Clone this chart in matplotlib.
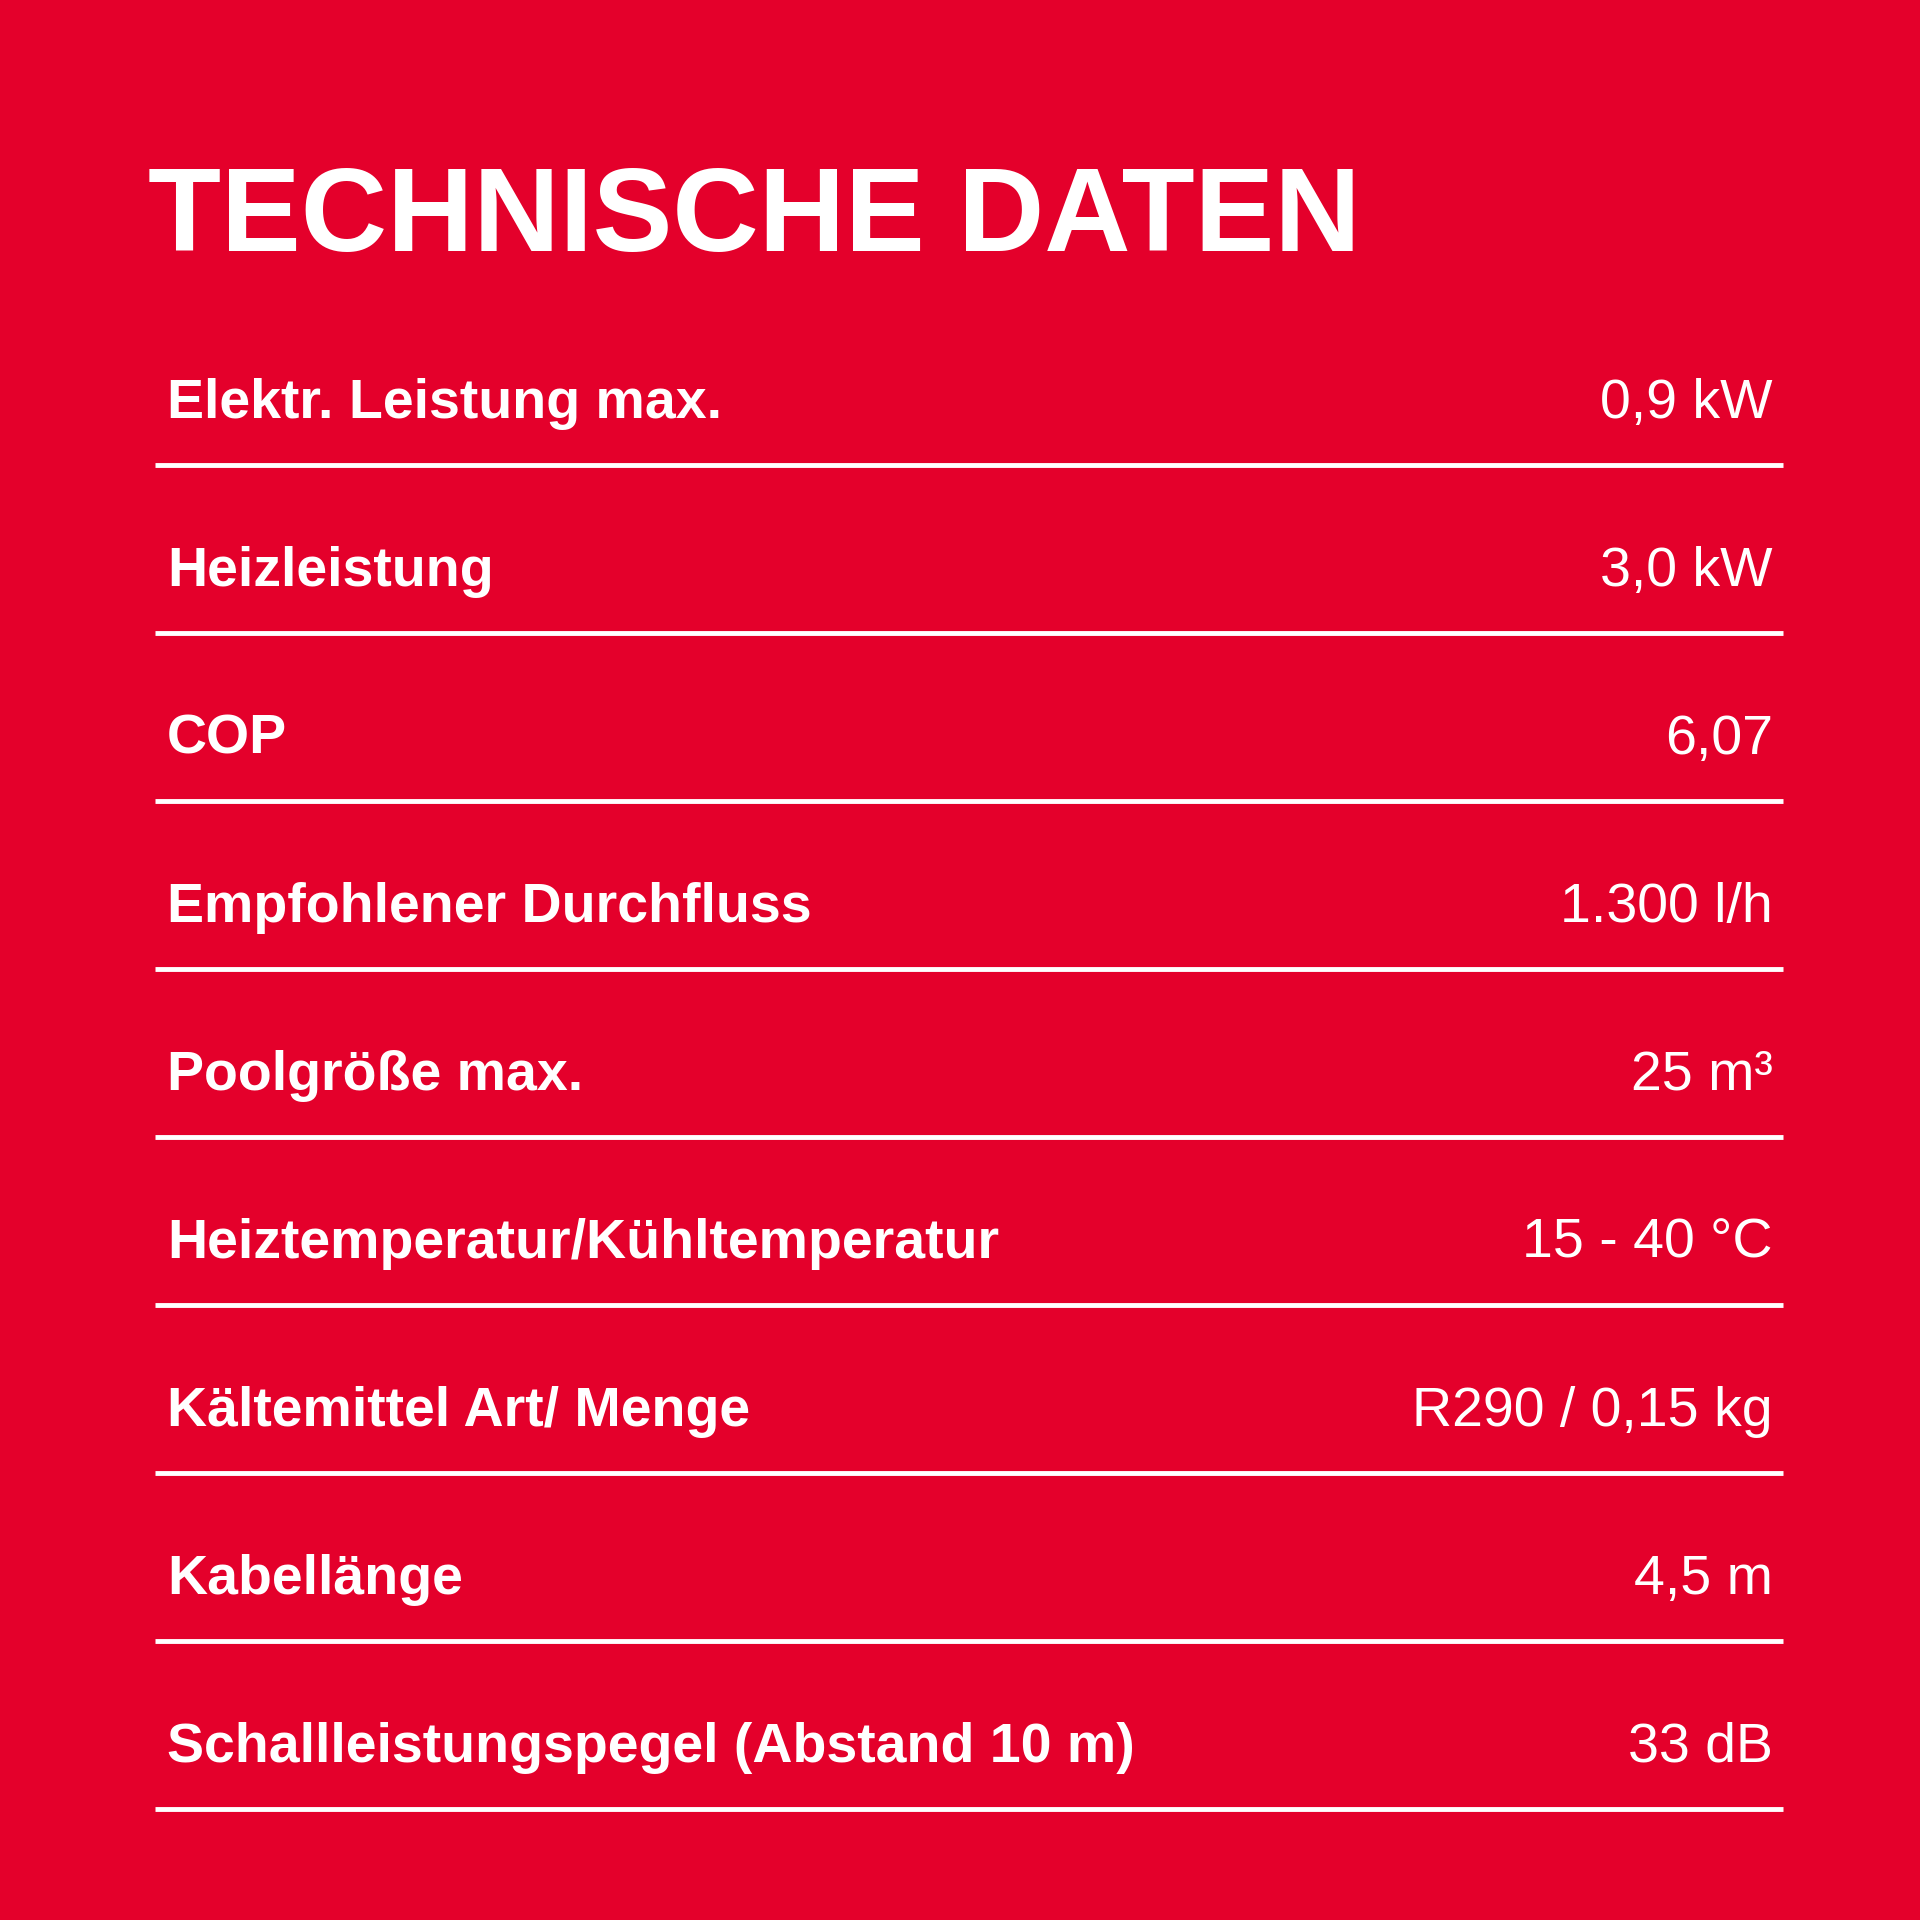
import matplotlib.pyplot as plt

BG = '#e4002b'

title = 'TECHNISCHE DATEN'
labels = ['Elektr. Leistung max.', 'Heizleistung', 'COP', 'Empfohlener Durchfluss',
          'Poolgröße max.', 'Heiztemperatur/Kühltemperatur', 'Kältemittel Art/ Menge',
          'Kabellänge', 'Schallleistungspegel (Abstand 10 m)']
values = ['0,9 kW', '3,0 kW', '6,07', '1.300 l/h', '25 m³', '15 - 40 °C',
          'R290 / 0,15 kg', '4,5 m', '33 dB']

W = 1920
fig = plt.figure(figsize=(19.2, 19.2), dpi=100)
fig.patch.set_facecolor(BG)
ax = fig.add_axes([0, 0, 1, 1])
ax.set_xlim(0, W)
ax.set_ylim(W, 0)
ax.axis('off')

ax.text(148, 251, title, fontsize=86, fontweight='bold', family='Liberation Sans',
        color='white', va='baseline', ha='left')

row_h = 168
for i, (lab, val) in enumerate(zip(labels, values)):
    y = 418 + i * row_h
    ax.text(167, y, lab, fontsize=40, fontweight='bold', family='Liberation Sans',
            color='white', va='baseline', ha='left')
    ax.text(1773, y, val, fontsize=40, family='Liberation Sans',
            color='white', va='baseline', ha='right')
    ax.plot([155, 1783], [y + 47, y + 47], color='white', lw=3.5,
            solid_capstyle='butt')

fig.savefig('out.png', dpi=100, facecolor=BG)
